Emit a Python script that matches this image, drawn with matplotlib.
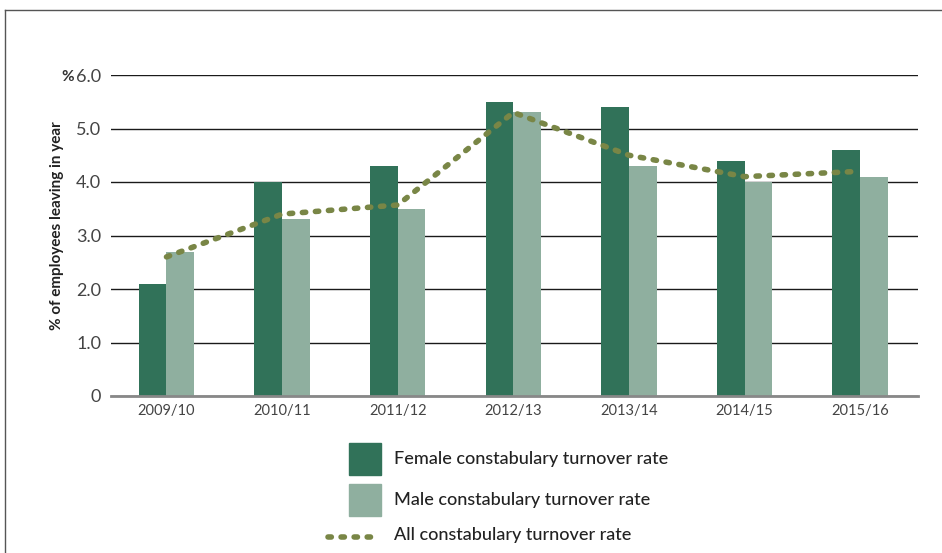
import matplotlib.pyplot as plt
from matplotlib.lines import Line2D
from matplotlib.patches import Rectangle
import numpy as np

plt.rcParams['font.family'] = ['Lato', 'DejaVu Sans']

years = ["2009/10", "2010/11", "2011/12", "2012/13", "2013/14", "2014/15", "2015/16"]
female = [2.1, 4.0, 4.3, 5.5, 5.4, 4.4, 4.6]
male = [2.7, 3.3, 3.5, 5.3, 4.3, 4.0, 4.1]
overall = [2.6, 3.4, 3.57, 5.3, 4.5, 4.1, 4.2]
yticks = [0, 1, 2, 3, 4, 5, 6]
ytick_labels = ["0", "1.0", "2.0", "3.0", "4.0", "5.0", "6.0"]

c_female = "#317259"
c_male = "#8FAF9F"
c_line = "#798646"
dots = (0, (0.6, 1.75))

W, H = 942, 553
fig = plt.figure(figsize=(W / 100, H / 100), dpi=100)
ax = fig.add_axes([111 / W, 1 - 396 / H, (918 - 111) / W, (396 - 75) / H])

x = np.arange(len(years))
bw = 0.24
ax.bar(x - bw / 2, female, bw, color=c_female, zorder=3)
ax.bar(x + bw / 2, male, bw, color=c_male, zorder=3)
ax.plot(x, overall, color=c_line, lw=4, linestyle=dots,
        dash_capstyle='round', solid_joinstyle='round', zorder=4)

ax.set_xlim(-0.48, 6.5)
ax.set_ylim(0, 6)
ax.set_yticks(yticks)
ax.set_yticklabels(ytick_labels)
ax.set_xticks(x)
ax.set_xticklabels(years)
ax.tick_params(axis='y', length=0, pad=7, labelsize=13, labelcolor="#444444")
ax.tick_params(axis='x', length=0, pad=6, labelsize=10.5, labelcolor="#444444")
ax.grid(axis='y', color="#1a1a1a", lw=1, zorder=1)
for s in ["top", "right", "left"]:
    ax.spines[s].set_visible(False)
ax.spines["bottom"].set_color("#888888")
ax.spines["bottom"].set_linewidth(2)
ax.spines["bottom"].set_zorder(5)

fig.text(74 / W, 1 - 77 / H, "%", ha='right', va='center',
         fontsize=11, fontweight='bold', color="#333333")
fig.text(57 / W, 1 - 226 / H, "% of employees leaving in year", rotation=90,
         ha='center', va='center', fontsize=11, fontweight='bold', color="#222222")

# frame
fig.add_artist(Line2D([5 / W, 1], [1 - 10 / H, 1 - 10 / H], color="#555555", lw=1))
fig.add_artist(Line2D([5 / W, 5 / W], [0, 1 - 10 / H], color="#555555", lw=1))

# legend
legend_items = [("Female constabulary turnover rate", c_female, 459),
                ("Male constabulary turnover rate", c_male, 500)]
for label, col, yc in legend_items:
    fig.add_artist(Rectangle((349 / W, 1 - (yc + 16) / H), 32 / W, 32 / H,
                             color=col, transform=fig.transFigure))
    fig.text(394 / W, 1 - yc / H, label, ha='left', va='center',
             fontsize=13, fontweight='medium', color="#222222")
fig.add_artist(Line2D([328 / W, 378 / W], [1 - 537 / H, 1 - 537 / H], color=c_line,
                      lw=4, linestyle=dots, dash_capstyle='round'))
fig.text(394 / W, 1 - 535 / H, "All constabulary turnover rate", ha='left', va='center',
         fontsize=13, fontweight='medium', color="#222222")

fig.savefig("out.png", dpi=100)
